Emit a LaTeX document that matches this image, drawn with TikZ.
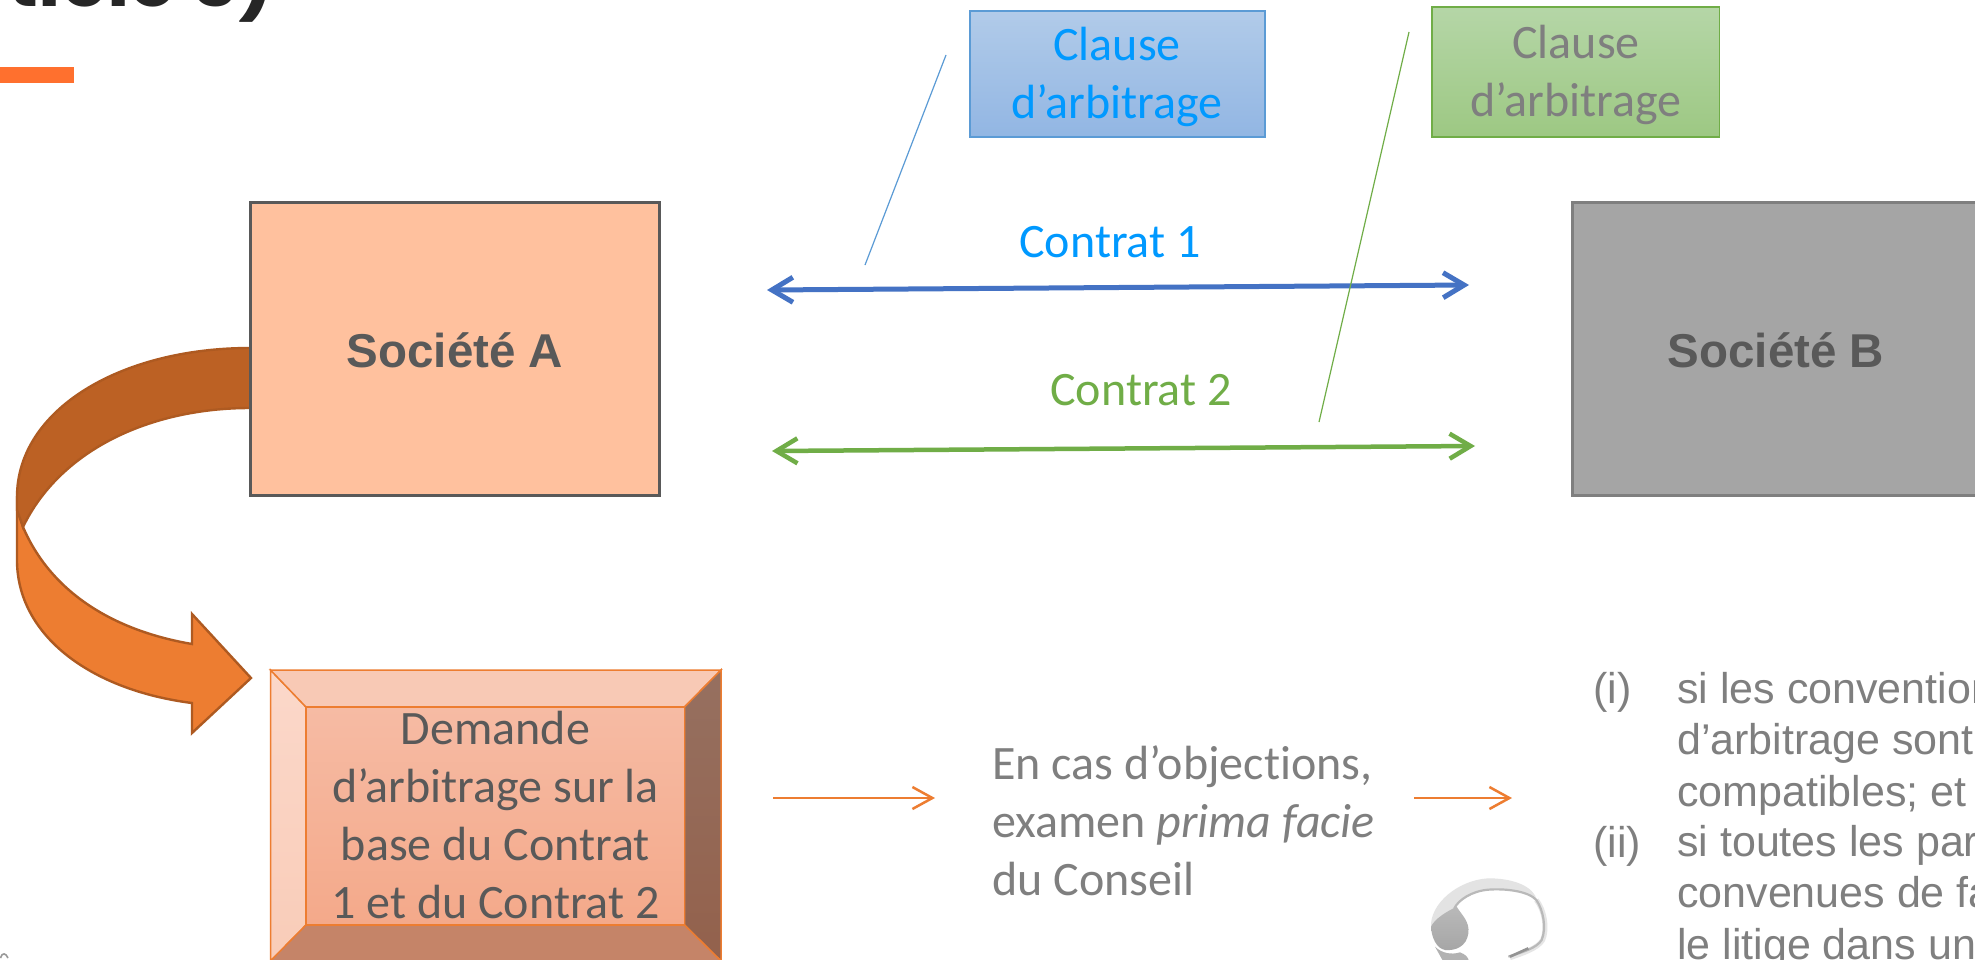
\documentclass[tikz,border=0pt]{standalone}
\usepackage{fontspec}
\setmainfont{Carlito}[Ligatures=NoCommon]
\newfontfamily\arialfont{Liberation Sans}
\newfontfamily\titlefont{Poppins}
\usetikzlibrary{arrows.meta}
\definecolor{txtdark}{HTML}{595959}
\definecolor{txtgrey}{HTML}{7F7F7F}
\definecolor{linkblue}{HTML}{0099FF}
\definecolor{blueline}{HTML}{4472C4}
\definecolor{bluethin}{HTML}{5B9BD5}
\definecolor{greenline}{HTML}{70AD47}
\definecolor{orangeline}{HTML}{ED7D31}
\definecolor{darkband}{HTML}{BC6124}
\definecolor{bandedge}{HTML}{AE5A21}
\definecolor{barorange}{HTML}{FF702E}
\tikzset{
  company/.style={draw=txtdark,line width=3pt,minimum height=293pt,minimum width=409pt,inner sep=0pt},
  companytext/.style={inner sep=0pt,anchor=base,text=txtdark,font=\arialfont\bfseries\fontsize{47.5}{54}\selectfont},
  calibri/.style={inner sep=0pt,anchor=base,align=center,font=\fontsize{48}{57.7}\selectfont},
  twoway/.style={line width=5pt,{Straight Barb[length=21pt,width=25pt]}-{Straight Barb[length=21pt,width=25pt]}},
  oneway/.style={line width=2.5pt,orangeline,-{Straight Barb[length=20pt,width=22pt]}},
  thin line/.style={line width=1.2pt},
  band/.style={draw=bandedge,line width=2.4pt,line join=miter},
  bevelface/.style={draw=orangeline,line width=1.5pt,line join=miter},
  rimtext/.style={inner sep=0pt,anchor=base west,text=txtgrey,font=\arialfont\fontsize{43}{51.4}\selectfont}
}
\begin{document}
\begin{tikzpicture}[x=1pt,y=-1pt]
\useasboundingbox (0,0) rectangle (1975,959);
\begin{scope}
\clip (0,0) rectangle (1975,959);
\fill[white] (0,0) rectangle (1975,959);
% title remnant and bar
\node[inner sep=0pt,anchor=base east,text=black!85,font=\titlefont\bfseries\fontsize{76}{90}\selectfont] (title) at (275,6) {(Article 3)};
\fill[barorange] (0,67) rectangle (74,83);
% curved arrow
\draw[band,fill=orangeline] (17,505) -- (17,560) .. controls (17,635) and (90,690) .. (192,703) -- (192,733) -- (251,678) -- (192,614) -- (192,644) .. controls (110,630) and (50,590) .. (23,527) -- cycle;
\draw[band,fill=darkband] (252,348) -- (250,348) .. controls (120,348) and (17,410) .. (17,497) -- (17,510) -- (23,527) .. controls (60,450) and (150,408) .. (250,408) -- (252,408);
% companies
\node[company,fill={rgb,255:red,255;green,193;blue,158}] (socA) at (454.5,348.5) {};
\node[company,fill={rgb,255:red,165;green,165;blue,165},draw=txtgrey] (socB) at (1776.5,348.5) {};
\node[companytext] (socAt) at (455,367) {Société A};
\node[companytext] (socBt) at (1776,367) {Société B};
% clauses
\node[draw=bluethin,line width=1.2pt,top color={rgb,255:red,177;green,203;blue,233},bottom color={rgb,255:red,146;green,182;blue,227},minimum width=295pt,minimum height=126pt] (clauseA) at (1117.5,74) {};
\node[draw=greenline,line width=1.2pt,top color={rgb,255:red,181;green,214;blue,167},bottom color={rgb,255:red,157;green,200;blue,131},minimum width=287.5pt,minimum height=130pt] (clauseB) at (1575.75,72) {};
\node[calibri,text=linkblue] (clauseAt) at (1117,118) {Clause\\d’arbitrage};
\node[calibri,text=txtgrey] (clauseBt) at (1576,116.5) {Clause\\d’arbitrage};
% slanted lines
\coordinate (bl1) at (946,55); \coordinate (bl2) at (865,265);
\coordinate (gl1) at (1409,32); \coordinate (gl2) at (1319,422);
\draw[thin line,bluethin] (bl1) -- (bl2);
% contracts
\coordinate (c1a) at (767,290); \coordinate (c1b) at (1469,285);
\coordinate (c2a) at (772,451); \coordinate (c2b) at (1475,446);
\draw[twoway,blueline] (c1a) -- (c1b);
\draw[twoway,greenline,line width=4.5pt] (c2a) -- (c2b);
\draw[thin line,greenline] (gl1) -- (gl2);
\node[calibri,text=linkblue] (ct1) at (1110,257) {Contrat 1};
\node[calibri,text=greenline] (ct2) at (1141,405) {Contrat 2};
% bevel box
\draw[bevelface,top color={rgb,255:red,251;green,216;blue,202},bottom color={rgb,255:red,249;green,204;blue,184}] (270.5,670) -- (306,707) -- (306,925) -- (270.5,961) -- cycle;
\draw[bevelface,fill={rgb,255:red,248;green,201;blue,181}] (270.5,670) -- (721,670) -- (684.5,707) -- (306,707) -- cycle;
\draw[bevelface,top color={rgb,255:red,150;green,112;blue,96},bottom color={rgb,255:red,147;green,97;blue,76}] (721,670) -- (721,961) -- (684.5,925) -- (684.5,707) -- cycle;
\draw[bevelface,fill={rgb,255:red,197;green,132;blue,104}] (270.5,961) -- (306,925) -- (684.5,925) -- (721,961) -- cycle;
\node[draw=orangeline,line width=1.5pt,top color={rgb,255:red,246;green,187;blue,164},bottom color={rgb,255:red,244;green,169;blue,138},minimum width=378.5pt,minimum height=218pt] (demande) at (495.25,816) {};
\node[calibri,text=txtdark] (demandet) at (495.5,918) {Demande\\d’arbitrage sur la\\base du Contrat\\1 et du Contrat 2};
% flow
\coordinate (f1a) at (773,798); \coordinate (f1b) at (935,798);
\coordinate (f2a) at (1414,798); \coordinate (f2b) at (1512,798);
\draw[oneway] (f1a) -- (f1b);
\draw[oneway] (f2a) -- (f2b);
\node[calibri,align=left,anchor=base west,text=txtgrey] (exam) at (992,895) {En cas d’objections,\\examen \textit{prima facie}\\du Conseil};
% conditions
\node[rimtext] (li) at (1593,703) {(i)};
\node[rimtext,align=left] (ti) at (1677,806) {si les conventions\\d’arbitrage sont\\compatibles; et};
\node[rimtext] (lii) at (1593,857) {(ii)};
\node[rimtext,align=left] (tii) at (1677,959) {si toutes les parties\\convenues de faire\\le litige dans un};
% ring
\begin{scope}[shift={(1415,865)},x=0.3333pt,y=-0.3333pt]
\draw[gray!20,line width=5pt] (364,105) .. controls (388,135) and (398,190) .. (383,225) .. controls (368,250) and (325,264) .. (285,278);
\fill[gray!22] (48,175) .. controls (55,100) and (150,38) .. (230,40) .. controls (300,42) and (355,65) .. (366,105) .. controls (340,78) and (270,70) .. (220,74) .. controls (170,78) and (130,105) .. (118,132) .. controls (90,145) and (60,170) .. (48,195) -- cycle;
\shade[top color=gray!55,bottom color=gray!70] (125,125) .. controls (140,150) and (165,170) .. (160,205) .. controls (155,245) and (120,258) .. (90,255) .. controls (65,250) and (50,220) .. (48,185) .. controls (60,160) and (95,140) .. (125,125) -- cycle;
\draw[gray!55,line width=2.2pt] (118,130) .. controls (130,105) and (170,78) .. (220,74) .. controls (270,70) and (340,78) .. (364,105) .. controls (385,135) and (395,190) .. (380,225) .. controls (365,250) and (320,262) .. (280,275);
\draw[gray!85,line width=2.6pt] (340,250) -- (285,275);
\fill[gray!60] (60,245) .. controls (80,265) and (110,270) .. (135,262) .. controls (150,268) and (160,275) .. (162,290) -- (85,290) -- cycle;
\end{scope}
% page number remnant
\draw[gray!80,line width=1.6pt] (0.5,958) .. controls (2,952) and (6,953) .. (8,958);
\end{scope}
\end{tikzpicture}
\end{document}
